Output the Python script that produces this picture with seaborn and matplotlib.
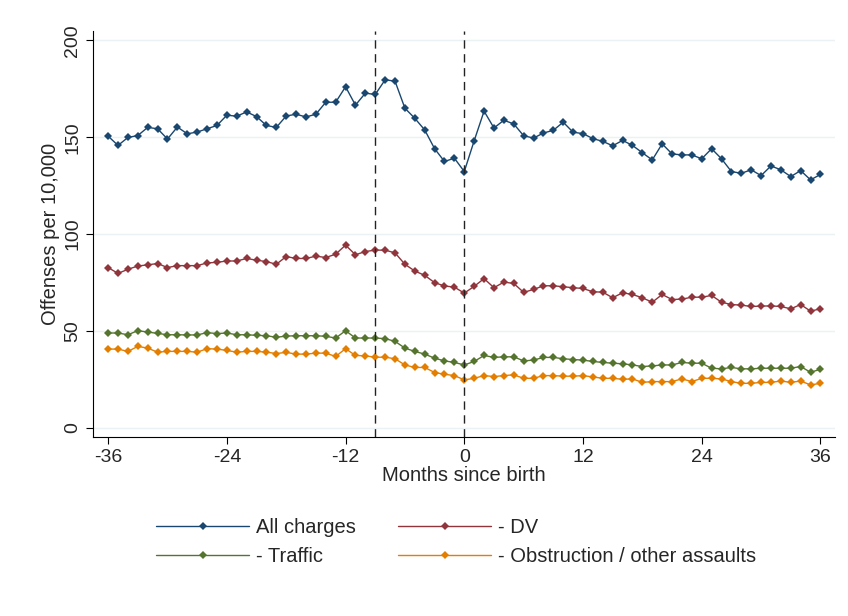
import matplotlib
matplotlib.use("Agg")
import matplotlib.pyplot as plt
import seaborn as sns
import pandas as pd

months = list(range(-36, 37))

all_charges = [150.6, 145.8, 149.9, 150.9, 155.1, 154.4, 149.1, 155.3, 151.8, 152.7,
               154.4, 156.1, 161.4, 160.9, 163.1, 160.7, 156.1, 155.1, 161.0, 161.9,
               160.5, 161.9, 168.1, 168.1, 176.1, 166.6, 172.8, 172.1, 179.7, 179.0,
               165.0, 159.8, 153.8, 144.1, 137.5, 139.2, 132.3, 148.2, 163.5, 154.8,
               158.8, 156.9, 150.8, 149.6, 152.2, 153.6, 157.8, 152.6, 151.9, 149.3,
               147.9, 145.6, 148.4, 145.8, 142.0, 138.3, 146.6, 141.4, 140.9, 140.9,
               138.9, 144.1, 138.9, 132.3, 131.4, 133.2, 130.2, 135.2, 133.2, 129.7,
               132.8, 128.0, 130.8]
dv = [82.7, 79.7, 81.8, 83.5, 84.1, 84.8, 82.7, 83.7, 83.7, 83.7,
      85.1, 85.4, 86.1, 86.1, 87.4, 86.5, 85.8, 84.4, 88.4, 87.4,
      87.4, 88.6, 87.9, 89.6, 94.3, 89.3, 91.0, 91.7, 91.7, 90.3,
      84.4, 80.9, 78.7, 74.9, 73.2, 72.6, 69.5, 73.0, 77.0, 72.3,
      75.2, 74.5, 69.9, 71.4, 73.3, 73.3, 72.8, 72.3, 71.9, 70.2,
      70.0, 67.1, 69.7, 68.8, 67.1, 64.8, 68.8, 66.2, 66.4, 67.4,
      67.4, 68.3, 64.8, 63.6, 63.3, 62.6, 62.8, 62.9, 62.6, 61.4,
      63.6, 60.2, 61.4]
traffic = [48.9, 48.9, 48.0, 50.1, 49.4, 48.7, 48.0, 48.0, 47.9, 47.9,
           49.1, 48.6, 48.9, 48.0, 48.0, 47.7, 47.5, 46.7, 47.3, 47.5,
           47.5, 47.5, 47.2, 46.3, 50.1, 46.3, 46.3, 46.3, 46.0, 44.6,
           41.1, 39.4, 38.0, 35.9, 34.5, 33.7, 32.4, 34.2, 37.3, 36.3,
           36.6, 36.6, 34.5, 34.9, 36.3, 36.3, 35.6, 35.2, 34.9, 34.2,
           33.7, 33.3, 33.0, 32.4, 31.6, 31.9, 32.4, 32.4, 33.7, 33.3,
           33.3, 30.7, 30.4, 31.1, 30.4, 30.4, 30.7, 30.7, 30.7, 30.7,
           31.6, 28.6, 30.2]
obstruction = [40.6, 40.6, 39.4, 42.0, 41.1, 39.0, 39.4, 39.4, 39.4, 39.0,
               40.8, 40.6, 39.9, 39.0, 39.4, 39.4, 39.0, 38.3, 38.9, 38.0,
               38.0, 38.5, 38.5, 36.8, 40.8, 37.3, 37.1, 36.4, 36.4, 35.6,
               32.4, 31.1, 31.1, 28.5, 27.6, 26.9, 24.7, 25.5, 26.9, 26.4,
               26.9, 27.3, 25.5, 25.5, 26.9, 26.9, 26.6, 26.6, 26.9, 26.2,
               25.5, 25.5, 25.0, 25.2, 23.4, 23.8, 23.8, 23.8, 25.2, 23.8,
               25.5, 25.5, 25.2, 23.8, 22.9, 22.9, 23.4, 23.4, 24.1, 23.4,
               24.1, 22.1, 22.9]

labels = ["All charges", "- DV", "- Traffic", "- Obstruction / other assaults"]
colors = ["#1a476f", "#90353b", "#55752f", "#e37e00"]

df = pd.concat([
    pd.DataFrame({"month": months, "value": vals, "series": lab})
    for vals, lab in zip([all_charges, dv, traffic, obstruction], labels)
])

sns.set_style("white")
plt.rcParams["font.family"] = ["Liberation Sans", "DejaVu Sans"]
plt.rcParams["axes.unicode_minus"] = False

fig = plt.figure(figsize=(8.48, 6.16), dpi=100)
ax = fig.add_axes([0.11, 0.29, 0.875, 0.66])

sns.lineplot(data=df, x="month", y="value", hue="series", hue_order=labels,
             palette=colors, marker="D", markersize=4.5, markeredgewidth=0,
             linewidth=1, ax=ax)

ax.axvline(-9, color="#222222", linestyle=(0, (6, 4)), linewidth=1)
ax.axvline(0, color="#222222", linestyle=(0, (6, 4)), linewidth=1)

ax.set_xlim(-37.5, 37.5)
ax.set_ylim(-5, 205)
ax.set_xticks([-36, -24, -12, 0, 12, 24, 36])
ax.set_yticks([0, 50, 100, 150, 200])
ax.set_yticklabels(["0", "50", "100", "150", "200"], rotation=90, va="center")
ax.grid(axis="y", color="#eaf2f3", linewidth=1)
ax.set_axisbelow(True)
for s in ["top", "right"]:
    ax.spines[s].set_visible(False)
ax.spines["left"].set_color("black")
ax.spines["bottom"].set_color("black")
ax.tick_params(axis="both", direction="out", length=5, color="black",
               labelsize=14, left=True, bottom=True)
ax.set_xlabel("Months since birth", fontsize=14.5, labelpad=0)
ax.set_ylabel("Offenses per 10,000", fontsize=14.5, labelpad=3)

ax.legend_.remove()
handles, _ = ax.get_legend_handles_labels()
order = [0, 2, 1, 3]
fig.legend([handles[i] for i in order], [labels[i] for i in order],
           loc="upper left", bbox_to_anchor=(0.175, 0.172),
           ncol=2, frameon=False, fontsize=14.5, handlelength=4.6,
           columnspacing=2.1, borderaxespad=0, labelspacing=0.5, handletextpad=0.35)

fig.savefig("out.png", dpi=100, facecolor="white")
